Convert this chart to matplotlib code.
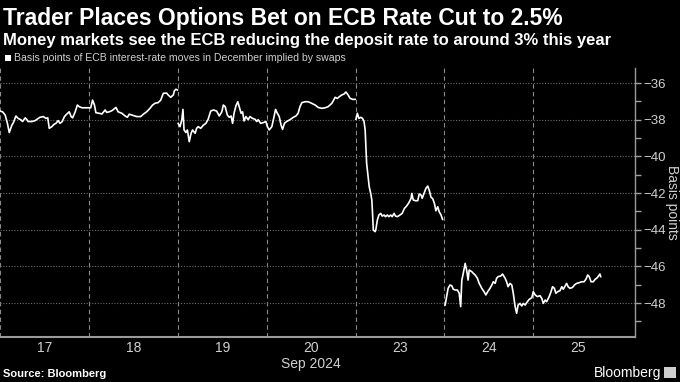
import numpy as np
import matplotlib
matplotlib.use("Agg")
import matplotlib.pyplot as plt
from matplotlib.patches import Rectangle

# hours on a compressed trading timeline (weekend removed), 24h per day slot
# Sep 17 - Sep 18
hours_a = [0.0, 0.7, 1.4, 2.0, 2.5, 3.2, 3.6, 4.3, 4.9, 5.6, 6.1, 6.8, 7.2, 7.6, 8.6, 9.5,
           10.1, 10.8, 11.7, 12.4, 12.9, 13.3, 14.0, 14.6, 15.1, 15.7, 16.2, 16.8, 17.4, 18.0,
           18.7, 19.2, 19.6, 20.3, 20.9, 21.4, 22.1, 23.0, 24.1, 24.5, 25.0, 25.5, 25.9, 26.8,
           27.5, 28.4, 28.8, 29.5, 30.2, 30.6, 31.3, 31.9, 32.9, 33.8, 34.4, 34.9, 35.8, 36.9,
           38.0, 38.7, 39.6, 40.5, 41.2, 41.9, 42.7, 43.4, 44.1, 45.0, 45.4, 46.1, 46.8, 47.1,
           47.5, 47.9]
values_a = [-37.53, -37.57, -37.75, -38.2, -38.7, -38.3, -38.17, -37.8, -37.93, -38.0, -38.1,
            -37.9, -37.98, -38.1, -38.1, -38.05, -37.96, -37.87, -37.83, -37.93, -37.9, -38.47,
            -38.38, -38.25, -38.2, -38.05, -38.2, -38.1, -37.83, -37.7, -37.57, -37.83, -37.9,
            -37.57, -37.2, -37.29, -37.35, -37.35, -37.35, -37.35, -36.93, -37.2, -37.62, -37.65,
            -37.69, -37.47, -37.6, -37.57, -37.51, -37.45, -37.33, -37.57, -37.65, -37.8, -37.87,
            -37.7, -37.76, -37.83, -37.83, -37.7, -37.57, -37.38, -37.2, -37.1, -37.07, -36.93,
            -36.56, -36.55, -36.65, -36.78, -36.65, -36.42, -36.34, -36.38]

# Sep 19 - Sep 20
hours_b = [48.1, 48.6, 49.1, 49.4, 49.7, 50.2, 50.6, 51.1, 51.6, 52.0, 52.7, 53.1, 53.5, 54.2,
           54.9, 55.6, 56.2, 56.9, 57.6, 58.5, 59.2, 59.9, 60.3, 60.8, 61.4, 61.9, 62.4, 62.8,
           63.2, 63.7, 64.2, 64.6, 65.1, 65.5, 65.9, 66.4, 67.0, 67.5, 68.2, 68.9, 69.3, 69.7,
           70.4, 71.1, 71.8, 72.2, 72.7, 73.4, 74.0, 74.4, 74.9, 75.4, 75.9, 76.3, 76.8, 77.4,
           78.3, 79.2, 79.9, 80.5, 81.0, 81.5, 82.4, 83.2, 84.2, 85.1, 85.9, 86.9, 87.8, 88.6,
           89.6, 90.5, 91.1, 91.6, 92.3, 92.9, 93.4, 94.0, 94.5, 95.2, 95.9]
values_b = [-38.2, -38.38, -38.0, -37.44, -38.56, -38.7, -38.56, -39.2, -38.74, -38.56, -38.74,
            -38.47, -38.38, -38.47, -38.3, -38.2, -37.98, -37.53, -37.47, -37.53, -37.8, -37.57,
            -37.2, -37.29, -37.75, -37.87, -37.8, -38.2, -37.65, -37.25, -37.02, -37.29, -37.65,
            -37.57, -38.07, -37.83, -38.0, -37.83, -37.93, -37.98, -38.1, -38.0, -38.2, -38.16,
            -38.1, -38.38, -38.56, -38.38, -37.83, -37.44, -37.65, -37.83, -38.3, -38.53, -38.2,
            -38.1, -38.0, -37.87, -37.8, -37.65, -37.29, -37.07, -37.02, -37.02, -37.11, -37.2,
            -37.33, -37.38, -37.35, -37.29, -37.11, -36.78, -36.84, -36.75, -36.65, -36.6,
            -36.49, -36.65, -36.83, -36.89, -36.89]

# Sep 23
hours_c = [96.1, 96.5, 96.9, 97.4, 97.9, 98.3, 98.6, 98.8, 99.0, 99.4, 99.7, 100.1, 100.4,
           100.6, 100.8, 101.3, 101.5, 101.9, 102.3, 102.8, 103.2, 103.7, 104.1, 104.6, 105.0,
           105.5, 105.9, 106.4, 106.8, 107.3, 108.0, 108.6, 109.2, 109.8, 110.4, 111.0, 111.2,
           111.6, 112.2, 112.8, 113.2, 113.7, 114.0, 114.5, 115.0, 115.5, 115.9, 116.4, 116.8,
           117.3, 117.7, 118.2, 118.6, 119.1, 119.5]
values_c = [-37.98, -37.65, -37.93, -37.87, -37.93, -38.1, -38.56, -39.47, -40.38, -41.11,
            -41.66, -42.02, -42.38, -43.11, -44.02, -44.11, -43.98, -43.47, -43.2, -43.11,
            -43.26, -43.2, -43.29, -43.2, -43.29, -43.2, -43.29, -43.11, -43.26, -43.29, -43.2,
            -43.11, -42.84, -42.71, -42.53, -42.29, -42.02, -42.38, -42.42, -42.42, -42.05,
            -42.11, -42.29, -42.02, -41.75, -41.62, -41.84, -42.24, -42.29, -42.56, -42.97,
            -42.75, -43.02, -43.2, -43.44]

# Sep 24 - Sep 25
hours_d = [120.2, 120.6, 121.0, 121.5, 122.0, 122.4, 122.9, 123.5, 124.0, 124.4, 124.7, 125.1,
           125.6, 126.0, 126.4, 126.7, 127.4, 127.8, 128.3, 128.9, 129.4, 130.1, 130.7, 131.2,
           131.7, 132.3, 132.8, 133.2, 133.7, 134.1, 134.5, 135.2, 135.7, 136.4, 136.8, 137.2,
           137.7, 138.2, 138.6, 139.1, 139.5, 139.9, 140.4, 140.9, 141.3, 141.8, 142.4, 142.9,
           143.6, 144.0, 144.5, 145.1, 145.8, 146.3, 146.7, 147.2, 147.6, 148.3, 148.8, 149.2,
           149.7, 150.1, 150.6, 151.2, 151.7, 152.1, 152.6, 153.0, 153.4, 153.9, 154.6, 155.1,
           155.7, 156.4, 157.1, 157.7, 158.2, 158.7, 159.1, 159.6, 160.2, 160.7, 161.1, 161.5,
           162.0, 162.2]
values_d = [-48.11, -47.66, -47.2, -47.02, -47.06, -47.25, -47.29, -47.29, -47.47, -48.2,
            -46.75, -46.38, -45.84, -46.2, -46.75, -46.2, -46.29, -46.38, -46.47, -46.65,
            -46.93, -47.2, -47.38, -47.56, -47.38, -47.2, -47.02, -46.84, -46.93, -46.65,
            -46.56, -46.53, -46.42, -46.65, -46.84, -47.11, -46.93, -47.02, -47.47, -48.2,
            -48.56, -48.11, -48.02, -48.16, -48.02, -48.11, -47.93, -47.8, -47.71, -47.38,
            -47.56, -47.65, -47.6, -47.75, -48.02, -47.84, -47.93, -47.65, -47.38, -47.11,
            -47.2, -47.47, -47.38, -47.33, -47.11, -47.25, -47.07, -46.93, -47.11, -47.2,
            -47.15, -47.02, -46.93, -46.89, -46.84, -46.84, -46.71, -46.47, -46.56, -46.84,
            -46.84, -46.71, -46.65, -46.56, -46.42, -46.56]

day_labels = ["17", "18", "19", "20\nSep 2024", "23", "24", "25"]
day_starts = [0, 24, 48, 72, 96, 120, 144]
y_ticks = [-36, -38, -40, -42, -44, -46, -48]

plt.rcParams['font.family'] = ['Liberation Sans', 'DejaVu Sans']
bg = "black"
fig = plt.figure(figsize=(6.8, 3.82), dpi=100, facecolor=bg)
ax = fig.add_axes([0.0, 0.118, 0.934, 0.704], facecolor=bg)

for h, v in [(hours_a, values_a), (hours_b, values_b), (hours_c, values_c), (hours_d, values_d)]:
    ax.plot(h, v, color="white", lw=1.2)

ax.set_xlim(0, 171.5)
ax.set_ylim(-49.85, -35.18)

# day separators (dashed) and day-centred labels
ax.set_xticks(day_starts)
ax.set_xticklabels([])
ax.tick_params(axis="x", which="major", length=0)
ax.set_xticks([d + 12 for d in day_starts], day_labels, minor=True)
ax.tick_params(axis="x", which="minor", length=0, colors="#d0d0d0", labelsize=10, pad=3)
ax.xaxis.grid(True, which="major", color="#8a8a8a", linestyle=(0, (4, 3)), lw=0.8)

ax.yaxis.tick_right()
ax.set_yticks(y_ticks)
ax.set_yticks([-37, -39, -41, -43, -45, -47, -49], minor=True)
ax.tick_params(axis="y", which="both", colors="#a0a0a0", labelcolor="#d0d0d0",
               labelsize=9.5, length=4, width=1, direction="out", pad=2)
ax.yaxis.grid(True, which="major", color="#6a6a6a", linestyle=(0, (1, 1.5)), lw=0.8)
fig.text(0.988, 0.47, "Basis points", color="#d0d0d0", fontsize=10, rotation=270,
         ha="center", va="center")

for s in ["left", "top"]:
    ax.spines[s].set_visible(False)
ax.spines["bottom"].set_color("#9a9a9a")
ax.spines["bottom"].set_linewidth(1.5)
ax.spines["right"].set_color("#9a9a9a")
ax.spines["right"].set_linewidth(1)

fig.text(0.005, 0.934, "Trader Places Options Bet on ECB Rate Cut to 2.5%", color="white",
         fontsize=16.5, fontweight="bold", va="baseline")
fig.text(0.005, 0.883, "Money markets see the ECB reducing the deposit rate to around 3% this year",
         color="white", fontsize=12, fontweight="bold", va="baseline")
fig.patches.append(Rectangle((0.008, 0.841), 0.008, 0.015, transform=fig.transFigure,
                             facecolor="white", edgecolor="none"))
fig.text(0.02, 0.848, "Basis points of ECB interest-rate moves in December implied by swaps",
         color="#d0d0d0", fontsize=7.6, va="center")
fig.text(0.005, 0.022, "Source: Bloomberg", color="white", fontsize=8, fontweight="bold",
         va="center")
fig.text(0.972, 0.024, "Bloomberg", color="white", fontsize=10, va="center", ha="right")
fig.patches.append(Rectangle((0.976, 0.01), 0.018, 0.03, transform=fig.transFigure,
                             facecolor="#cfcfcf", edgecolor="none"))

fig.savefig("out.png", dpi=100, facecolor=bg)
